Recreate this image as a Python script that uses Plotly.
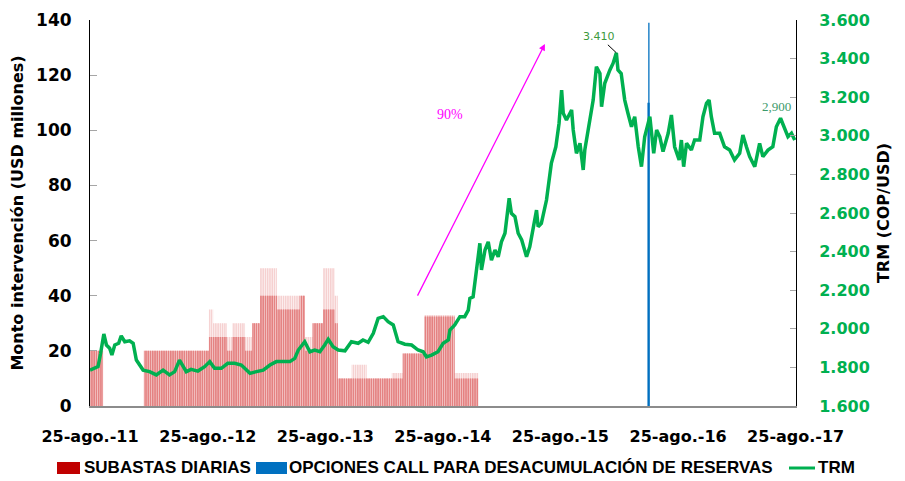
import pandas as pd
import plotly.graph_objects as go

# ---------------- data ----------------
# TRM (COP/USD)
trm_dates = [
    "2011-08-25","2011-09-19","2011-09-27","2011-10-07","2011-10-15","2011-10-25","2011-11-01","2011-11-10","2011-11-22","2011-11-30","2011-12-11","2011-12-26",
    "2012-01-06","2012-01-16","2012-02-06","2012-02-26","2012-03-18","2012-04-08","2012-04-28","2012-05-14","2012-05-29","2012-06-09","2012-06-19","2012-07-04","2012-07-25","2012-08-15","2012-08-31","2012-09-15","2012-10-06","2012-10-26","2012-11-16","2012-12-07","2012-12-25",
    "2013-01-03","2013-01-23","2013-02-13","2013-03-06","2013-03-26","2013-04-16","2013-05-07","2013-05-22","2013-06-02","2013-06-22","2013-07-08","2013-07-23","2013-08-08","2013-08-23","2013-09-03","2013-09-18","2013-10-04","2013-10-25","2013-11-14","2013-12-05","2013-12-20",
    "2014-01-05","2014-01-21","2014-02-05","2014-02-21","2014-03-08","2014-03-24","2014-04-08","2014-04-29","2014-05-20","2014-06-09","2014-06-25","2014-07-05","2014-07-21","2014-08-10","2014-08-26","2014-09-11","2014-09-16","2014-10-01","2014-10-17","2014-11-01","2014-11-12","2014-11-17","2014-11-27","2014-12-06","2014-12-13","2014-12-18","2014-12-23",
    "2015-01-03","2015-01-13","2015-01-23","2015-02-03","2015-02-13","2015-02-23","2015-03-06","2015-03-19","2015-03-26","2015-04-06","2015-04-16","2015-04-27","2015-05-12","2015-05-22","2015-06-02","2015-06-12","2015-06-17","2015-06-27","2015-07-13","2015-07-21","2015-07-28","2015-08-11","2015-08-21","2015-08-29","2015-09-03","2015-09-13","2015-09-29","2015-10-04","2015-10-14","2015-10-25","2015-11-04","2015-11-09","2015-11-25","2015-12-05","2015-12-15","2015-12-26","2015-12-31",
    "2016-01-10","2016-01-26","2016-02-05","2016-02-15","2016-02-20","2016-03-01","2016-03-12","2016-03-22","2016-04-02","2016-04-12","2016-04-23","2016-05-03","2016-05-13","2016-05-29","2016-06-10","2016-06-19","2016-06-29","2016-07-09","2016-07-25","2016-08-04","2016-08-14","2016-08-28","2016-09-04","2016-09-11","2016-09-20","2016-10-05","2016-10-15","2016-10-31","2016-11-10","2016-11-21","2016-11-29","2016-12-06","2016-12-16",
    "2017-01-01","2017-01-16","2017-02-01","2017-02-16","2017-03-04","2017-03-14","2017-03-25","2017-04-04","2017-04-20","2017-05-05","2017-05-15","2017-05-31","2017-06-15","2017-06-26","2017-07-09","2017-07-22","2017-08-01","2017-08-12","2017-08-22",
]
trm_values = [
    1786,1804,1873,1973,1916,1899,1864,1916,1925,1963,1933,1938,
    1925,1838,1786,1778,1761,1786,1761,1778,1838,1804,1778,1790,1781,1804,1830,1795,1795,1821,1821,1812,1786,
    1769,1778,1786,1812,1830,1830,1830,1847,1890,1933,1881,1890,1881,1916,1946,1907,1890,1886,1933,1925,1942,
    1930,1977,2054,2063,2037,2020,1933,1920,1916,1890,1881,1855,1864,1881,1925,1942,1994,2020,2063,2063,2097,2158,2166,2287,2391,2443,2305,
    2408,2451,2356,2408,2373,2451,2495,2676,2598,2581,2495,2460,2373,2425,2529,2615,2529,2546,2667,2753,2857,2943,3065,3237,3117,3082,3134,3030,2909,2961,2823,2926,3082,3185,3358,3323,3151,
    3272,3341,3376,3430,3341,3323,3185,3117,3047,3099,2943,2840,2995,3099,2909,3030,2995,2918,3013,3108,2943,2875,2978,2840,2961,2926,2978,2978,3099,3168,3185,3099,3013,
    3013,2943,2926,2875,2909,3004,2943,2892,2840,2961,2892,2926,2943,3047,3091,3030,2995,3013,2978,
]

# Daily auctions (USD millions): periods with the usual daily amount and the highest daily amount
sub_start = ["2011-08-25","2012-02-09","2012-08-29","2012-09-11","2012-10-24","2012-11-09","2012-12-19","2013-01-10","2013-02-04","2013-03-28","2013-06-07","2013-06-24","2013-07-17","2013-08-17","2013-09-24","2013-10-03","2013-11-15","2014-01-01","2014-03-20","2014-04-23","2014-06-30","2014-10-01"]
sub_end   = ["2011-10-04","2012-08-28","2012-09-10","2012-10-23","2012-11-08","2012-12-18","2013-01-09","2013-02-03","2013-03-27","2013-06-06","2013-06-23","2013-07-16","2013-08-16","2013-09-23","2013-10-02","2013-11-14","2013-12-31","2014-03-19","2014-04-22","2014-06-29","2014-09-30","2014-12-12"]
sub_base  = [20, 20, 25, 25, 20, 25, 20, 30, 40, 35, 40, 20, 30, 35, 30, 10, 10, 10, 10, 19, 32.5, 10]
sub_peak  = [20, 20, 35, 30, 25, 30, 25, 30, 50, 40, 40, 25, 30, 50, 40, 10, 15, 10, 12, 19, 33, 12]

# Call options for reserve decumulation (USD millions)
opc_dates = ["2016-05-25", "2016-05-26"]
opc_values = [110, 139]

tick_dates = ["2011-08-25","2012-08-25","2013-08-25","2014-08-25","2015-08-25","2016-08-25","2017-08-25"]
tick_text = ["25-ago.-11","25-ago.-12","25-ago.-13","25-ago.-14","25-ago.-15","25-ago.-16","25-ago.-17"]

legend_names = ["SUBASTAS DIARIAS", "OPCIONES CALL PARA DESACUMULACIÓN DE RESERVAS", "TRM"]

# ---------------- build ----------------
base_x, base_y, peak_x, peak_y = [], [], [], []
for s, e, b, p in zip(sub_start, sub_end, sub_base, sub_peak):
    days = pd.bdate_range(s, e)
    base_x += list(days); base_y += [b] * len(days)
    peak_x += list(days); peak_y += [p] * len(days)

DAY = 86400000
FONT = "DejaVu Sans"
LFONT = "Liberation Sans"
GREEN = "#00B050"
RED = "#C00000"
BLUE = "#0070C0"
BOLD = dict(family=FONT, weight="bold", color="black")

fig = go.Figure()
fig.add_trace(go.Bar(x=peak_x, y=peak_y, width=DAY, marker=dict(color="rgba(226,110,110,0.35)", line=dict(width=0)),
                     showlegend=False, hoverinfo="skip", name=legend_names[0]))
fig.add_trace(go.Bar(x=base_x, y=base_y, width=DAY, marker=dict(color="#DE6262", line=dict(width=0)),
                     showlegend=False, name=legend_names[0]))
fig.add_trace(go.Bar(x=opc_dates, y=opc_values, width=[7 * DAY, 4 * DAY], marker=dict(color=BLUE, line=dict(width=0)),
                     showlegend=False, name=legend_names[1]))
fig.add_trace(go.Scatter(x=trm_dates, y=trm_values, mode="lines", line=dict(color=GREEN, width=3.5),
                         showlegend=False, name=legend_names[2], yaxis="y2"))

# page is offset by the 8px body margin: figure 897x473, plot area x 82..788, y 12..398 (figure px)
W, H = 897, 473
L, R, T, B = 82, 109, 12, 75
PW, PH = W - L - R, H - T - B


def px(xf):
    return (xf - 8 - L) / PW


def py(yf):
    return (H - B - (yf - 8)) / PH


leg_y = py(468)
shapes = [
    dict(type="rect", xref="paper", yref="paper", x0=px(57), x1=px(80), y0=py(474), y1=py(462),
         fillcolor=RED, line=dict(width=0)),
    dict(type="rect", xref="paper", yref="paper", x0=px(256), x1=px(287), y0=py(474), y1=py(462),
         fillcolor=BLUE, line=dict(width=0)),
    dict(type="line", xref="paper", yref="paper", x0=px(789), x1=px(815), y0=leg_y, y1=leg_y,
         line=dict(color=GREEN, width=3)),
    dict(type="line", xref="paper", yref="paper", x0=px(900.5), x1=px(900.5), y0=py(490), y1=py(-2),
         line=dict(color="black", width=2.5)),
]
leg_ann = [
    dict(x=px(x0), y=leg_y, xref="paper", yref="paper", text=t, showarrow=False, xanchor="left",
         yanchor="middle", font=dict(size=17, family=LFONT, weight="bold", color="black"))
    for x0, t in zip([82, 287, 816], legend_names)
]

fig.update_layout(
    width=W, height=H,
    margin=dict(l=L, r=R, t=T, b=B),
    paper_bgcolor="white", plot_bgcolor="white",
    barmode="overlay",
    separators=",.",
    font=dict(family=FONT, color="black"),
    showlegend=False,
    xaxis=dict(type="date", range=["2011-08-25", "2017-08-26"], tickvals=tick_dates, ticktext=tick_text,
               automargin=False,
               showline=True, linecolor="#8C8C8C", linewidth=1.5, ticks="", showgrid=False, zeroline=False,
               tickfont=dict(size=16, **BOLD), ticklabelstandoff=15),
    yaxis=dict(range=[0, 140], dtick=20, showline=True, linecolor="black", linewidth=1, automargin=False,
               ticks="inside", ticklen=7, tickcolor="#A6A6A6", showgrid=False, zeroline=False,
               tickfont=dict(size=17, **BOLD), ticklabelstandoff=14,
               title=dict(text="Monto intervención (USD millones)", standoff=9, font=dict(size=16, **BOLD))),
    yaxis2=dict(range=[1600, 3600], dtick=200, overlaying="y", side="right", tickformat=",d", automargin=False,
                showline=True, linecolor="black", linewidth=1,
                ticks="inside", ticklen=6, tickcolor="#A6A6A6", showgrid=False, zeroline=False,
                tickfont=dict(size=16, family=FONT, weight="bold", color=GREEN), ticklabelstandoff=19,
                title=dict(text="TRM (COP/USD)", standoff=8, font=dict(size=16, **BOLD))),
    annotations=[
        dict(x="2016-02-15", y=3430, xref="x", yref="y2", text="3.410", showarrow=True, arrowhead=0,
             arrowwidth=1, arrowcolor="black", ax=-17, ay=-16, font=dict(size=11, family=FONT, color="#3C9A3C")),
        dict(x="2017-06-27", y=3154, xref="x", yref="y2", text="2,900", showarrow=False,
             font=dict(size=13, family="Liberation Serif", color="#3C9A6A")),
        dict(x="2014-09-16", y=105.9, xref="x", yref="y", text="90%", showarrow=False,
             font=dict(size=14, family="Liberation Serif", color="#FF00FF")),
        dict(x="2015-07-08", y=131.3, xref="x", yref="y", ax="2014-06-05", ay=39.5, axref="x", ayref="y",
             text="", showarrow=True, arrowhead=2, arrowsize=1, arrowwidth=1.3, arrowcolor="#FF00FF"),
    ] + leg_ann,
    shapes=shapes,
)

fig.write_html("out.html", config={"staticPlot": True})
